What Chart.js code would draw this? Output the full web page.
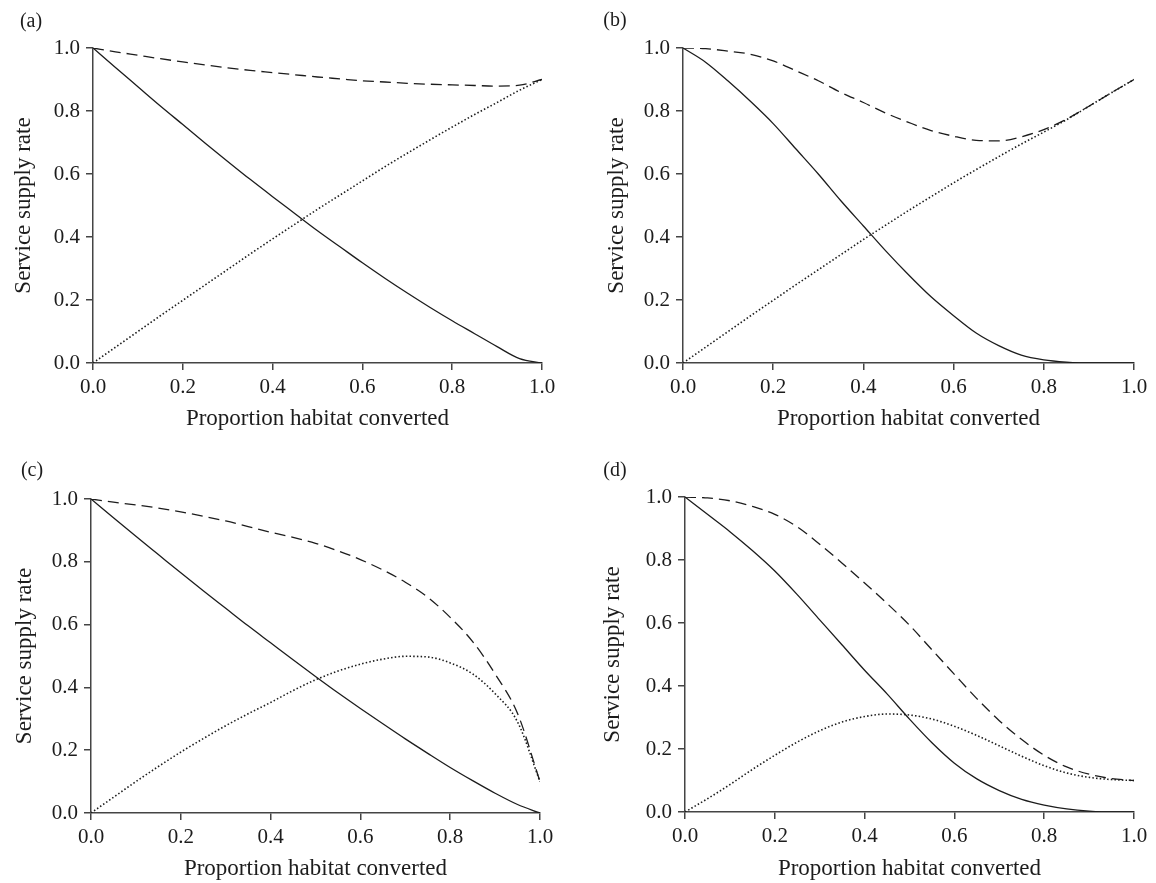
<!DOCTYPE html>
<html>
<head>
<meta charset="utf-8">
<script src="https://cdn.jsdelivr.net/npm/chart.js@4.4.1/dist/chart.umd.min.js"></script>
<style>
  body { margin: 0; background: #fff; width: 1156px; height: 883px; position: relative; overflow: hidden; }
  canvas { position: absolute; }
</style>
</head>
<body>
<canvas id="pa" width="578" height="441" style="left:0;top:0"></canvas>
<canvas id="pb" width="578" height="441" style="left:578px;top:0"></canvas>
<canvas id="pc" width="578" height="442" style="left:0;top:441px"></canvas>
<canvas id="pd" width="578" height="442" style="left:578px;top:441px"></canvas>
<script>
// proportion of habitat converted (shared x values)
const xValues = [0, 0.05, 0.1, 0.15, 0.2, 0.25, 0.3, 0.35, 0.4, 0.45, 0.5,
                 0.55, 0.6, 0.65, 0.7, 0.75, 0.8, 0.85, 0.9, 0.95, 1];
const axisTicks = [0, 0.2, 0.4, 0.6, 0.8, 1.0];

// (a)
const aSolid  = [1, 0.938, 0.877, 0.816, 0.757, 0.698, 0.640, 0.583, 0.528, 0.474, 0.420,
                 0.369, 0.318, 0.269, 0.222, 0.177, 0.134, 0.093, 0.052, 0.014, 0];
const aDotted = [0, 0.05, 0.1, 0.15, 0.199, 0.248, 0.297, 0.346, 0.394, 0.441, 0.488,
                 0.533, 0.578, 0.623, 0.666, 0.708, 0.749, 0.789, 0.827, 0.866, 0.9];
const aDashed = [1, 0.988, 0.977, 0.966, 0.956, 0.946, 0.937, 0.929, 0.922, 0.915, 0.908,
                 0.902, 0.896, 0.892, 0.888, 0.885, 0.883, 0.881, 0.879, 0.882, 0.9];

// (b)
const bSolid  = [1, 0.955, 0.895, 0.83, 0.76, 0.68, 0.60, 0.515, 0.435, 0.355, 0.28,
                 0.21, 0.15, 0.095, 0.055, 0.025, 0.01, 0.003, 0, 0, 0];
const bDotted = [0, 0.05, 0.1, 0.15, 0.199, 0.248, 0.296, 0.344, 0.392, 0.438, 0.484,
                 0.528, 0.572, 0.614, 0.655, 0.695, 0.733, 0.772, 0.815, 0.858, 0.9];
const bDashed = [1, 0.998, 0.99, 0.98, 0.959, 0.928, 0.896, 0.859, 0.827, 0.793, 0.764,
                 0.738, 0.72, 0.707, 0.705, 0.718, 0.741, 0.774, 0.815, 0.858, 0.9];

// (c)
const cSolid  = [1, 0.94, 0.881, 0.823, 0.765, 0.708, 0.652, 0.596, 0.542, 0.488, 0.435,
                 0.383, 0.333, 0.284, 0.236, 0.19, 0.145, 0.103, 0.063, 0.027, 0];
const cDotted = [0, 0.05, 0.1, 0.148, 0.194, 0.237, 0.278, 0.316, 0.352, 0.39, 0.424,
                 0.452, 0.474, 0.49, 0.499, 0.497, 0.478, 0.443, 0.38, 0.29, 0.1];
const cDashed = [1, 0.99, 0.981, 0.971, 0.959, 0.945, 0.93, 0.912, 0.894, 0.878, 0.859,
                 0.835, 0.807, 0.774, 0.735, 0.687, 0.623, 0.546, 0.443, 0.317, 0.1];

// (d)
const dSolid  = [1, 0.945, 0.89, 0.83, 0.765, 0.69, 0.61, 0.53, 0.45, 0.375, 0.295,
                 0.22, 0.155, 0.105, 0.068, 0.04, 0.022, 0.01, 0.003, 0, 0];
const dDotted = [0, 0.042, 0.087, 0.135, 0.18, 0.222, 0.258, 0.286, 0.303, 0.311, 0.308,
                 0.295, 0.272, 0.243, 0.21, 0.177, 0.147, 0.124, 0.11, 0.103, 0.1];
const dDashed = [1, 0.997, 0.988, 0.97, 0.945, 0.905, 0.85, 0.79, 0.727, 0.662, 0.593,
                 0.515, 0.437, 0.36, 0.29, 0.23, 0.18, 0.143, 0.12, 0.106, 0.1];

const FONT = '"Liberation Serif", "Times New Roman", serif';
const INK = '#1c1c1c';
const AXIS = '#444';

const toPoints = ys => xValues.map((x, i) => ({ x, y: ys[i] }));

// small plugin for the (a)/(b)/... panel tags
const panelTag = {
  id: 'panelTag',
  afterDraw(chart, args, opts) {
    const ctx = chart.ctx;
    ctx.save();
    ctx.font = '20px ' + FONT;
    ctx.fillStyle = INK;
    ctx.textAlign = 'center';
    ctx.textBaseline = 'middle';
    ctx.fillText(opts.text, opts.x, opts.y);
    ctx.restore();
  }
};

function makePanel(cfg) {
  const canvas = document.getElementById(cfg.id);
  const W = canvas.width, H = canvas.height;
  const box = cfg.box;

  const line = (ys, dash, width) => ({
    data: toPoints(ys),
    borderColor: INK,
    borderWidth: width,
    borderDash: dash,
    pointRadius: 0,
    cubicInterpolationMode: 'monotone',
    fill: false
  });

  const scaleBase = {
    type: 'linear',
    min: 0,
    max: 1,
    afterBuildTicks: s => { s.ticks = axisTicks.map(v => ({ value: v })); },
    grid: { drawOnChartArea: false, drawTicks: true, tickLength: 7, color: AXIS, lineWidth: 1.5 },
    border: { display: true, color: AXIS, width: 1.5 },
    ticks: {
      color: INK,
      font: { family: FONT, size: 21 },
      callback: v => Number(v).toFixed(1)
    }
  };

  new Chart(canvas, {
    type: 'line',
    data: {
      datasets: [
        line(cfg.dashed, [11, 6], 1.3),
        line(cfg.dotted, [1.5, 2.2], 1.6),
        line(cfg.solid, [], 1.3)
      ]
    },
    options: {
      responsive: false,
      animation: false,
      events: [],
      layout: { padding: { left: 0, top: box.t, right: W - box.r, bottom: 0 } },
      plugins: {
        legend: { display: false },
        tooltip: { enabled: false },
        panelTag: { text: cfg.tag, x: cfg.tagX, y: cfg.tagY }
      },
      scales: {
        x: {
          ...scaleBase,
          position: 'bottom',
          ticks: { ...scaleBase.ticks, padding: 5, maxRotation: 0 },
          title: {
            display: true,
            text: 'Proportion habitat converted',
            color: INK,
            font: { family: FONT, size: 23, lineHeight: 1.2 },
            padding: { top: 0, bottom: H - cfg.xTitleY - 13.8 }
          },
          afterFit: s => { s.height = H - box.b; }
        },
        y: {
          ...scaleBase,
          position: 'left',
          ticks: { ...scaleBase.ticks, padding: 6 },
          title: {
            display: true,
            text: 'Service supply rate',
            color: INK,
            font: { family: FONT, size: 23, lineHeight: 1.2 },
            padding: { top: cfg.yTitleX - 13.8, bottom: 0 }
          },
          afterFit: s => { s.width = box.l; }
        }
      }
    },
    plugins: [panelTag]
  });
}

makePanel({ id: 'pa', tag: '(a)', solid: aSolid, dotted: aDotted, dashed: aDashed,
  box: { l: 93, t: 48, r: 542, b: 363 }, yTitleX: 24, xTitleY: 419, tagX: 31, tagY: 22 });
makePanel({ id: 'pb', tag: '(b)', solid: bSolid, dotted: bDotted, dashed: bDashed,
  box: { l: 105, t: 48, r: 556, b: 363 }, yTitleX: 38.5, xTitleY: 419, tagX: 37, tagY: 21 });
makePanel({ id: 'pc', tag: '(c)', solid: cSolid, dotted: cDotted, dashed: cDashed,
  box: { l: 91, t: 58, r: 540, b: 372 }, yTitleX: 25, xTitleY: 428, tagX: 32, tagY: 30 });
makePanel({ id: 'pd', tag: '(d)', solid: dSolid, dotted: dDotted, dashed: dDashed,
  box: { l: 107, t: 56, r: 556, b: 371 }, yTitleX: 34.5, xTitleY: 428, tagX: 37, tagY: 30 });
</script>
</body>
</html>
